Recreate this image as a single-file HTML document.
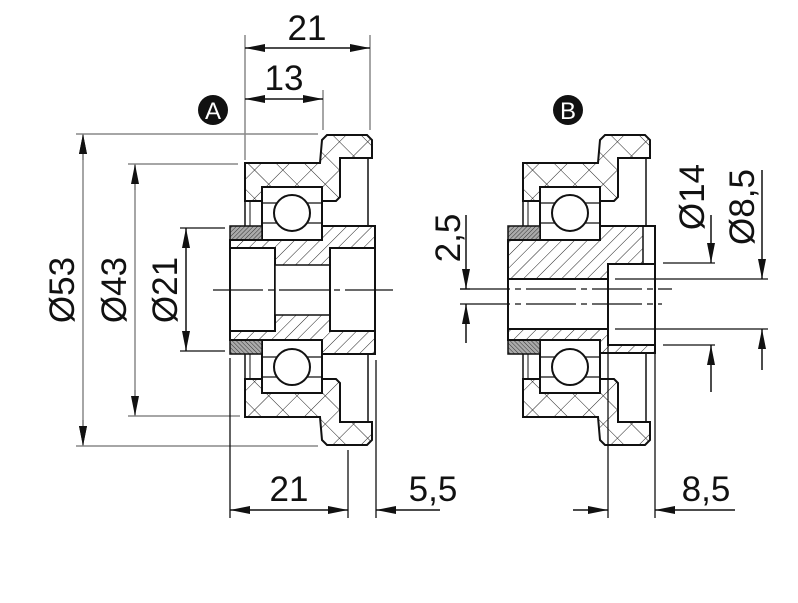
<!DOCTYPE html>
<html><head><meta charset="utf-8"><style>
html,body{margin:0;padding:0;background:#fff;}
svg{display:block;}
text{font-family:"Liberation Sans",sans-serif;font-size:35px;fill:#111;}
</style></head><body>
<svg width="798" height="603" viewBox="0 0 798 603" xmlns="http://www.w3.org/2000/svg">
<defs>
<pattern id="cross" width="20" height="20" patternUnits="userSpaceOnUse" patternTransform="rotate(45)">
<rect width="20" height="20" fill="#fff"/>
<line x1="0" y1="0" x2="0" y2="20" stroke="#222" stroke-width="1"/>
<line x1="0" y1="0" x2="20" y2="0" stroke="#222" stroke-width="1"/>
</pattern>
<pattern id="diag" width="9" height="9" patternUnits="userSpaceOnUse" patternTransform="rotate(45)">
<rect width="9" height="9" fill="#fff"/>
<line x1="0" y1="0" x2="0" y2="9" stroke="#222" stroke-width="1"/>
</pattern>
<pattern id="dense" width="3" height="3" patternUnits="userSpaceOnUse" patternTransform="rotate(45)">
<rect width="3" height="3" fill="#aaa"/>
<line x1="0" y1="0" x2="0" y2="3" stroke="#333" stroke-width="1"/>
</pattern>
<marker id="ar" viewBox="0 0 20 8" refX="20" refY="4" markerWidth="20" markerHeight="8" markerUnits="userSpaceOnUse" orient="auto-start-reverse">
<path d="M0,0 L20,4 L0,8 Z" fill="#111"/>
</marker>
<g id="tireA">
<path d="M245,163 L320,163 L322,140 L327,135 L367,135 L372,140 L372,158 L340,158 L340,197 L336,201 L245,201 Z" fill="url(#cross)" stroke="#111" stroke-width="2"/>
<line x1="245" y1="201" x2="245" y2="226" stroke="#111" stroke-width="1.5"/>
<line x1="250" y1="201" x2="250" y2="226" stroke="#111" stroke-width="1"/>
<line x1="368" y1="158" x2="368" y2="226" stroke="#111" stroke-width="1.5"/>
<rect x="262" y="187" width="60" height="53" fill="#fff" stroke="#111" stroke-width="2"/>
<line x1="262" y1="203" x2="322" y2="203" stroke="#111" stroke-width="1.2"/>
<line x1="262" y1="223" x2="322" y2="223" stroke="#111" stroke-width="1.2"/>
<circle cx="292" cy="213" r="18" fill="#fff" stroke="#111" stroke-width="2"/>
<rect x="230" y="226" width="32" height="14" fill="url(#dense)" stroke="#111" stroke-width="1.5"/>
</g>
</defs>

<!-- View A -->
<use href="#tireA"/>
<use href="#tireA" transform="matrix(1,0,0,-1,0,580)"/>
<path d="M230,240 L322,240 L322,226 L375,226 L375,354 L322,354 L322,340 L230,340 Z" fill="url(#diag)" stroke="#111" stroke-width="2"/>
<rect x="230" y="248" width="45" height="83" fill="#fff" stroke="#111" stroke-width="2"/>
<rect x="275" y="265" width="55" height="50" fill="#fff" stroke="#111" stroke-width="1.5"/>
<rect x="330" y="248" width="45" height="83" fill="#fff" stroke="#111" stroke-width="2"/>
<line x1="213" y1="290" x2="393" y2="290" stroke="#111" stroke-width="1.2" stroke-dasharray="50,5,6,5"/>

<!-- View B -->
<use href="#tireA" transform="translate(278,0)"/>
<use href="#tireA" transform="matrix(1,0,0,-1,278,580)"/>
<path d="M508,240 L600,240 L600,226 L655,226 L655,353 L600,353 L600,340 L508,340 Z" fill="url(#diag)" stroke="#111" stroke-width="2"/>
<rect x="643" y="227" width="11" height="37" fill="#fff"/>
<line x1="643" y1="226" x2="643" y2="264" stroke="#111" stroke-width="1.5"/>
<rect x="508" y="279" width="100" height="50" fill="#fff" stroke="#111" stroke-width="2"/>
<rect x="608" y="264" width="47" height="81" fill="#fff" stroke="#111" stroke-width="2"/>
<line x1="460" y1="289" x2="672" y2="289" stroke="#111" stroke-width="1.2" stroke-dasharray="50,5,6,5"/>
<line x1="460" y1="304" x2="662" y2="304" stroke="#111" stroke-width="1.2" stroke-dasharray="50,5,6,5"/>

<!-- Labels -->
<circle cx="213" cy="110" r="15" fill="#111"/>
<text x="213" y="119" text-anchor="middle" style="font-size:24px;fill:#fff">A</text>
<circle cx="568" cy="110" r="15" fill="#111"/>
<text x="568" y="119" text-anchor="middle" style="font-size:24px;fill:#fff">B</text>

<g stroke="#888" stroke-width="1.5" fill="none">
<!-- top ext -->
<line x1="245" y1="35" x2="245" y2="160"/>
<line x1="370" y1="35" x2="370" y2="130"/>
<line x1="323" y1="90" x2="323" y2="130"/>
<!-- left ext -->
<line x1="76" y1="134" x2="318" y2="134"/>
<line x1="76" y1="446" x2="318" y2="446"/>
<line x1="128" y1="164" x2="238" y2="164"/>
<line x1="128" y1="416" x2="240" y2="416"/>
<line x1="83" y1="134" x2="83" y2="446"/>
<line x1="135" y1="164" x2="135" y2="416"/>
</g>
<g stroke="#111" stroke-width="1.3" fill="none">
<line x1="180" y1="228" x2="225" y2="228"/>
<line x1="180" y1="351" x2="225" y2="351"/>
<line x1="230" y1="358" x2="230" y2="518"/>
<line x1="348" y1="450" x2="348" y2="518"/>
<line x1="376" y1="360" x2="376" y2="518"/>
<line x1="608" y1="346" x2="608" y2="518"/>
<line x1="655" y1="346" x2="655" y2="518"/>
<line x1="663" y1="263" x2="715" y2="263"/>
<line x1="663" y1="345" x2="715" y2="345"/>
<line x1="615" y1="279" x2="768" y2="279"/>
<line x1="615" y1="329" x2="768" y2="329"/>
<line x1="460" y1="289" x2="470" y2="289"/>
</g>
<g stroke="#111" stroke-width="1.5" fill="none">
<line x1="245" y1="48" x2="370" y2="48" marker-start="url(#ar)" marker-end="url(#ar)"/>
<line x1="245" y1="99" x2="323" y2="99" marker-start="url(#ar)" marker-end="url(#ar)"/>
<line x1="83" y1="134" x2="83" y2="446" marker-start="url(#ar)" marker-end="url(#ar)" stroke="none"/>
<path d="M83,134 L83,160" marker-start="url(#ar)" stroke="#888"/>
<path d="M83,420 L83,446" marker-end="url(#ar)" stroke="#888"/>
<path d="M135,164 L135,190" marker-start="url(#ar)" stroke="#888"/>
<path d="M135,390 L135,416" marker-end="url(#ar)" stroke="#888"/>
<line x1="186" y1="228" x2="186" y2="351" marker-start="url(#ar)" marker-end="url(#ar)"/>
<line x1="230" y1="510" x2="348" y2="510" marker-start="url(#ar)" marker-end="url(#ar)"/>
<path d="M440,510 L376,510" marker-end="url(#ar)"/>
<path d="M573,510 L608,510" marker-end="url(#ar)"/>
<path d="M735,510 L655,510" marker-end="url(#ar)"/>
<path d="M711,215 L711,263" marker-end="url(#ar)"/>
<path d="M711,392 L711,345" marker-end="url(#ar)"/>
<path d="M762,170 L762,279" marker-end="url(#ar)"/>
<path d="M762,370 L762,329" marker-end="url(#ar)"/>
<path d="M466,215 L466,289" marker-end="url(#ar)"/>
<path d="M466,343 L466,304" marker-end="url(#ar)"/>
</g>

<text x="307" y="40" text-anchor="middle">21</text>
<text x="284" y="90" text-anchor="middle">13</text>
<text x="289" y="501" text-anchor="middle">21</text>
<text x="433" y="501" text-anchor="middle">5,5</text>
<text x="706" y="501" text-anchor="middle">8,5</text>
<text transform="translate(74,290) rotate(-90)" text-anchor="middle">Ø53</text>
<text transform="translate(126,290) rotate(-90)" text-anchor="middle">Ø43</text>
<text transform="translate(177,290) rotate(-90)" text-anchor="middle">Ø21</text>
<text transform="translate(704,197) rotate(-90)" text-anchor="middle">Ø14</text>
<text transform="translate(754,207) rotate(-90)" text-anchor="middle">Ø8,5</text>
<text transform="translate(460,238) rotate(-90)" text-anchor="middle">2,5</text>
</svg>
</body></html>
